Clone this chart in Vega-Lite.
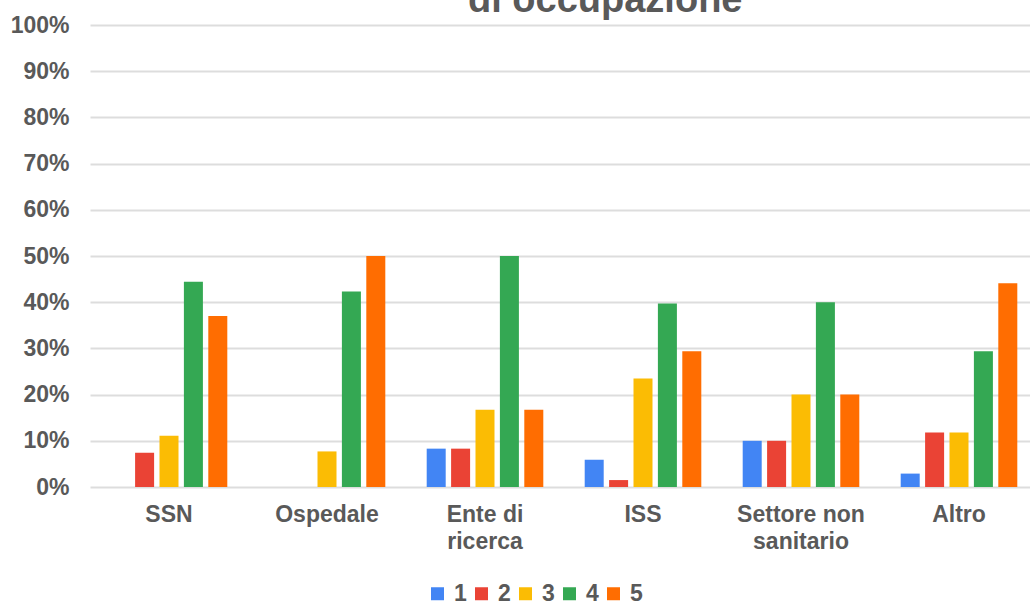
{
  "$schema": "https://vega.github.io/schema/vega-lite/v6.json",
  "autosize": {"type": "none"},
  "width": 948,
  "height": 462,
  "padding": {"left": 90, "top": 25, "right": 0, "bottom": 116},
  "title": {
    "text": "di occupazione",
    "fontSize": 38,
    "font": "Liberation Sans",
    "fontWeight": "bold",
    "color": "#595959",
    "anchor": "start",
    "frame": "group",
    "dx": 378,
    "offset": -6
  },
  "data": {
    "values": [
      {"categoria": "SSN", "serie": "1", "valore": 0},
      {"categoria": "SSN", "serie": "2", "valore": 0.074},
      {"categoria": "SSN", "serie": "3", "valore": 0.111},
      {"categoria": "SSN", "serie": "4", "valore": 0.444},
      {"categoria": "SSN", "serie": "5", "valore": 0.370},
      {"categoria": "Ospedale", "serie": "1", "valore": 0},
      {"categoria": "Ospedale", "serie": "2", "valore": 0},
      {"categoria": "Ospedale", "serie": "3", "valore": 0.077},
      {"categoria": "Ospedale", "serie": "4", "valore": 0.423},
      {"categoria": "Ospedale", "serie": "5", "valore": 0.500},
      {"categoria": "Ente di ricerca", "serie": "1", "valore": 0.083},
      {"categoria": "Ente di ricerca", "serie": "2", "valore": 0.083},
      {"categoria": "Ente di ricerca", "serie": "3", "valore": 0.167},
      {"categoria": "Ente di ricerca", "serie": "4", "valore": 0.500},
      {"categoria": "Ente di ricerca", "serie": "5", "valore": 0.167},
      {"categoria": "ISS", "serie": "1", "valore": 0.059},
      {"categoria": "ISS", "serie": "2", "valore": 0.015},
      {"categoria": "ISS", "serie": "3", "valore": 0.235},
      {"categoria": "ISS", "serie": "4", "valore": 0.397},
      {"categoria": "ISS", "serie": "5", "valore": 0.294},
      {"categoria": "Settore non sanitario", "serie": "1", "valore": 0.100},
      {"categoria": "Settore non sanitario", "serie": "2", "valore": 0.100},
      {"categoria": "Settore non sanitario", "serie": "3", "valore": 0.200},
      {"categoria": "Settore non sanitario", "serie": "4", "valore": 0.400},
      {"categoria": "Settore non sanitario", "serie": "5", "valore": 0.200},
      {"categoria": "Altro", "serie": "1", "valore": 0.029},
      {"categoria": "Altro", "serie": "2", "valore": 0.118},
      {"categoria": "Altro", "serie": "3", "valore": 0.118},
      {"categoria": "Altro", "serie": "4", "valore": 0.294},
      {"categoria": "Altro", "serie": "5", "valore": 0.441}
    ]
  },
  "mark": {"type": "bar"},
  "encoding": {
    "x": {
      "field": "categoria",
      "type": "nominal",
      "sort": ["SSN", "Ospedale", "Ente di ricerca", "ISS", "Settore non sanitario", "Altro"],
      "scale": {"paddingInner": 0.262, "paddingOuter": 0.131},
      "axis": {
        "title": null,
        "labelAngle": 0,
        "ticks": false,
        "domain": false,
        "labelPadding": 16,
        "labelFontSize": 23,
        "labelFont": "Liberation Sans",
        "labelFontWeight": "bold",
        "labelColor": "#595959",
        "labelLineHeight": 27,
        "labelBaseline": "top",
        "labelExpr": "datum.value == 'Ente di ricerca' ? ['Ente di', 'ricerca'] : datum.value == 'Settore non sanitario' ? ['Settore non', 'sanitario'] : datum.value"
      }
    },
    "xOffset": {
      "field": "serie",
      "type": "nominal",
      "scale": {"paddingInner": 0.221, "paddingOuter": 0}
    },
    "y": {
      "field": "valore",
      "type": "quantitative",
      "scale": {"domain": [0, 1]},
      "axis": {
        "title": null,
        "format": ".0%",
        "values": [0, 0.1, 0.2, 0.3, 0.4, 0.5, 0.6, 0.7, 0.8, 0.9, 1],
        "ticks": false,
        "domain": false,
        "labelPadding": 21,
        "labelFontSize": 23,
        "labelFont": "Liberation Sans",
        "labelFontWeight": "bold",
        "labelColor": "#595959",
        "gridColor": "#dddddd",
        "gridWidth": 2
      }
    },
    "color": {
      "field": "serie",
      "type": "nominal",
      "scale": {
        "domain": ["1", "2", "3", "4", "5"],
        "range": ["#4285F4", "#EA4335", "#FBBC04", "#34A853", "#FF6D01"]
      },
      "legend": {
        "title": null,
        "orient": "none",
        "direction": "horizontal",
        "legendX": 336,
        "legendY": 557,
        "symbolType": "square",
        "symbolSize": 169,
        "symbolStrokeWidth": 0,
        "labelFontSize": 23,
        "labelFont": "Liberation Sans",
        "labelFontWeight": "bold",
        "labelColor": "#595959",
        "labelOffset": 5,
        "columnPadding": 3
      }
    }
  },
  "config": {
    "view": {"stroke": null},
    "background": "white"
  }
}
